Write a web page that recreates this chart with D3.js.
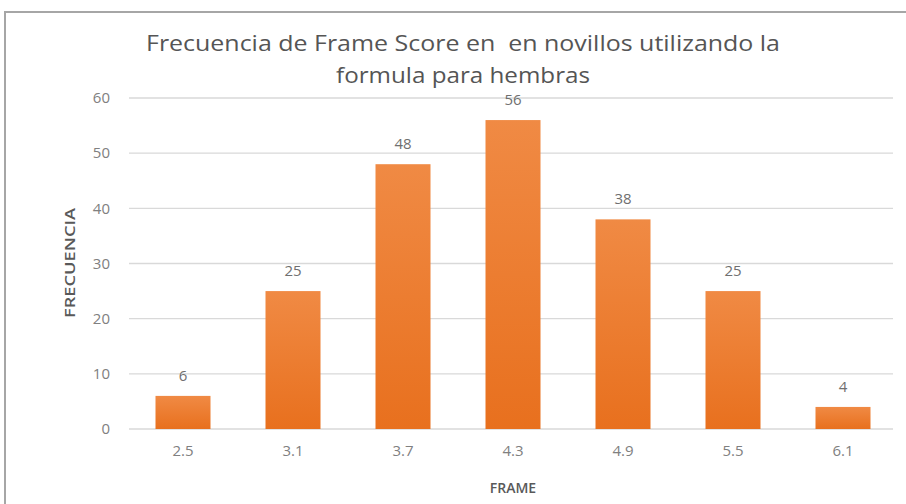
<!DOCTYPE html>
<html>
<head>
<meta charset="utf-8">
<script src="https://cdn.jsdelivr.net/npm/d3@7"></script>
<style>
  body { margin: 0; background: #fff; }
  svg { display: block; }
  .grid line { stroke: #d9d9d9; stroke-width: 1.3; }
  .axis text { fill: #808080; font: 15px "Open Sans", sans-serif; }
</style>
</head>
<body>
<div id="chart"></div>
<script>
var frames = ["2.5", "3.1", "3.7", "4.3", "4.9", "5.5", "6.1"];
var counts = [6, 25, 48, 56, 38, 25, 4];
var yTicks = [0, 10, 20, 30, 40, 50, 60];
var titleLines = ["Frecuencia de Frame Score en  en novillos utilizando la", "formula para hembras"];

var W = 906, H = 504;
var margin = {top: 98, right: 8, bottom: 75, left: 128};
var width = W - margin.left - margin.right,
    height = H - margin.top - margin.bottom;

var svg = d3.select("#chart").append("svg")
    .attr("width", W)
    .attr("height", H);

// bar gradient, lighter on top
var grad = svg.append("defs").append("linearGradient")
    .attr("id", "barGrad")
    .attr("x1", 0).attr("y1", 0).attr("x2", 0).attr("y2", 1);
grad.append("stop").attr("offset", "0%").attr("stop-color", "#f08a44");
grad.append("stop").attr("offset", "100%").attr("stop-color", "#e8701e");

// chart frame
svg.append("rect")
    .attr("x", 5).attr("y", 12)
    .attr("width", W + 10).attr("height", H + 10)
    .attr("fill", "none")
    .attr("stroke", "#a6a6a6")
    .attr("stroke-width", 2);

var g = svg.append("g")
    .attr("transform", "translate(" + margin.left + "," + margin.top + ")");

var x = d3.scaleBand().domain(frames).range([0, width])
    .paddingInner(0.5).paddingOuter(0.25);
var y = d3.scaleLinear().domain([0, 60]).range([height, 0]);

// gridlines
g.append("g")
    .attr("class", "grid")
    .selectAll("line")
    .data(yTicks)
    .enter().append("line")
    .attr("x1", 1).attr("x2", width - 5)
    .attr("y1", function(d) { return y(d); })
    .attr("y2", function(d) { return y(d); });

var yAxis = d3.axisLeft(y).tickValues(yTicks).tickSize(0).tickPadding(18);
g.append("g")
    .attr("class", "axis axis--y")
    .call(yAxis)
    .call(function(s) { s.select(".domain").remove(); });

var xAxis = d3.axisBottom(x).tickSize(0).tickPadding(16);
g.append("g")
    .attr("class", "axis axis--x")
    .attr("transform", "translate(0," + height + ")")
    .call(xAxis)
    .call(function(s) { s.select(".domain").remove(); });

var data = frames.map(function(f, i) { return {frame: f, count: counts[i]}; });

g.selectAll(".bar")
    .data(data)
    .enter().append("rect")
    .attr("class", "bar")
    .attr("x", function(d) { return x(d.frame); })
    .attr("width", x.bandwidth())
    .attr("y", function(d) { return y(d.count); })
    .attr("height", function(d) { return height - y(d.count); })
    .attr("fill", "url(#barGrad)");

g.selectAll(".label")
    .data(data)
    .enter().append("text")
    .attr("class", "label")
    .attr("x", function(d) { return x(d.frame) + x.bandwidth() / 2; })
    .attr("y", function(d) { return y(d.count) - 15; })
    .attr("text-anchor", "middle")
    .style("font", "15px 'Open Sans', sans-serif")
    .style("fill", "#6f6f6f")
    .text(function(d) { return d.count; });

// title, stretched to the width it has in the reference
var titleWidths = [634, 254];
svg.append("g").selectAll("text")
    .data(titleLines)
    .enter().append("text")
    .attr("x", 463)
    .attr("y", function(d, i) { return 51 + i * 32; })
    .attr("text-anchor", "middle")
    .attr("textLength", function(d, i) { return titleWidths[i]; })
    .attr("lengthAdjust", "spacingAndGlyphs")
    .style("white-space", "pre")
    .style("font", "500 22px 'Open Sans', sans-serif")
    .style("fill", "#555555")
    .text(function(d) { return d; });

// axis titles
svg.append("text")
    .attr("x", 513)
    .attr("y", 493)
    .attr("text-anchor", "middle")
    .style("font", "600 14px 'Open Sans', sans-serif")
    .style("fill", "#595959")
    .text("FRAME");

svg.append("text")
    .attr("transform", "translate(75,263) rotate(-90)")
    .attr("text-anchor", "middle")
    .attr("textLength", 110)
    .attr("lengthAdjust", "spacingAndGlyphs")
    .style("font", "600 14px 'Open Sans', sans-serif")
    .style("fill", "#595959")
    .text("FRECUENCIA");
</script>
</body>
</html>
